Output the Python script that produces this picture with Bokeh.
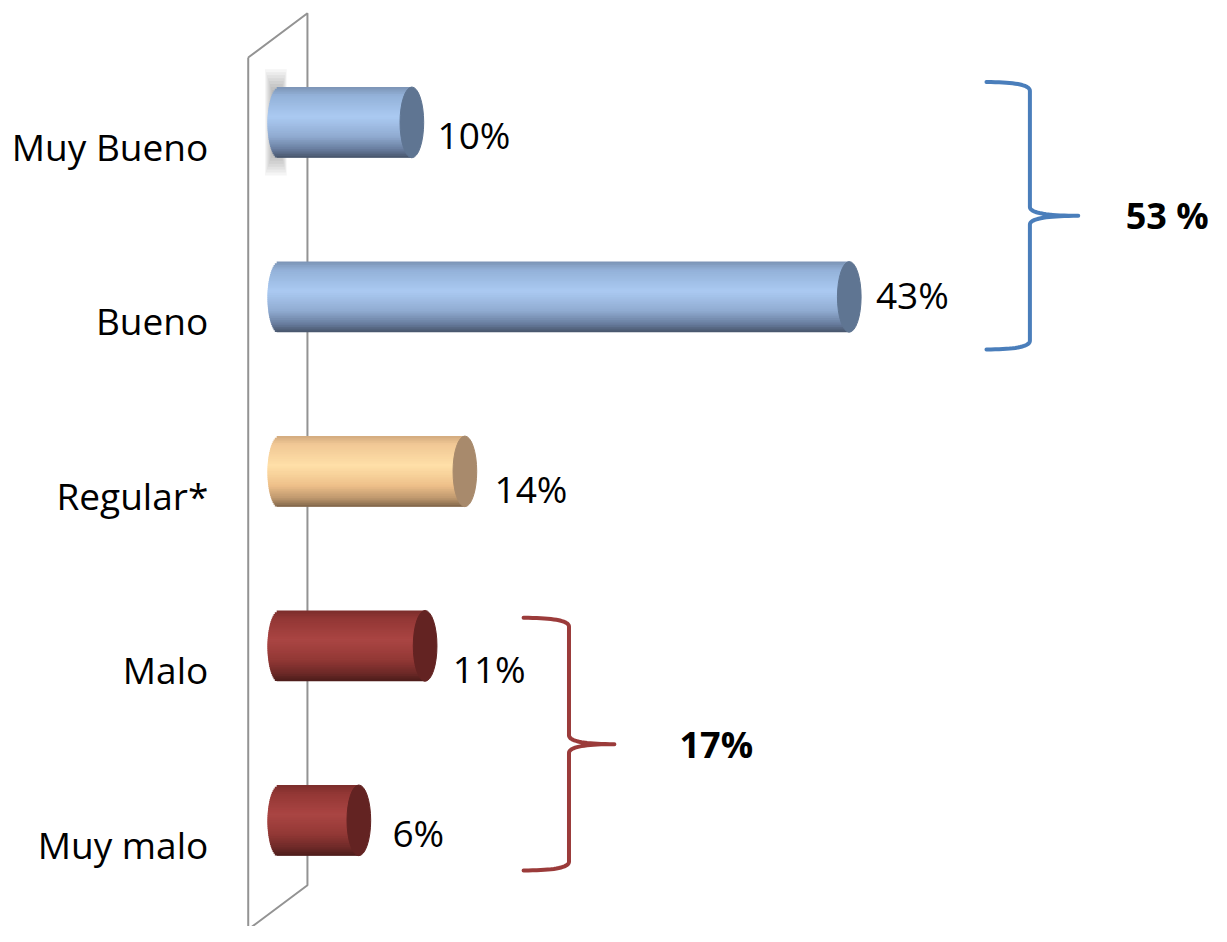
import numpy as np
from bokeh.plotting import figure
from bokeh.models import Range1d, ColumnDataSource
from bokeh.core.properties import value
from bokeh.embed import file_html
from bokeh.resources import INLINE

# ---------------- data ----------------
categories = ["Muy Bueno", "Bueno", "Regular*", "Malo", "Muy malo"]
values = [10, 43, 14, 11, 6]
value_labels = ["10%", "43%", "14%", "11%", "6%"]
bar_style = ["pos", "pos", "neu", "neg", "neg"]
group_labels = ["53 %", "17%"]
group_style = ["pos", "neg"]

# ---------------- styles ----------------
FONT = value("Open Sans")
GRAD = {
    "pos": [(0.0, "#7b93b4"), (0.12, "#93b1d8"), (0.42, "#abcaf2"), (0.7, "#90abd0"),
            (0.88, "#687d9e"), (1.0, "#46546a")],
    "neu": [(0.0, "#d2aa7e"), (0.12, "#f1c895"), (0.42, "#ffe0a8"), (0.7, "#eec08a"),
            (0.88, "#bd976d"), (1.0, "#7e6448")],
    "neg": [(0.0, "#7a2d2b"), (0.12, "#933735"), (0.42, "#aa4543"), (0.7, "#923835"),
            (0.88, "#6e2a28"), (1.0, "#4b1b1a")],
}
CAP = {"pos": "#5f7592", "neu": "#a88a6c", "neg": "#632322"}
BRACE = {"pos": "#4a7ebb", "neg": "#9b3b3a"}
# label placement quirks of the original (screen px)
LABEL_DX = [26, 27, 30, 28, 34]
LABEL_DY = [12, -2, 17, 23, 12]

# reference layout (pixels of a 1227x942 picture) scaled onto the figure
REF_W, REF_H = 1227, 942
W, H = 1211, 926
SX = W / REF_W
PX_PER_UNIT_X = 13.43
PX_PER_UNIT_Y = 177.5
ZERO_PX_X = 282.5
FIRST_PX_Y = 124.0

def X(px):
    return (px - ZERO_PX_X) / PX_PER_UNIT_X

def Y(px):
    return (px - FIRST_PX_Y) / PX_PER_UNIT_Y

def hex2rgb(h):
    h = h.lstrip("#")
    return np.array([int(h[i:i + 2], 16) for i in (0, 2, 4)], dtype=float)

def grad_color(stops, t):
    for (t0, c0), (t1, c1) in zip(stops[:-1], stops[1:]):
        if t0 <= t <= t1:
            f = (t - t0) / (t1 - t0)
            c = hex2rgb(c0) * (1 - f) + hex2rgb(c1) * f
            return "#%02x%02x%02x" % tuple(int(round(v)) for v in c)
    return stops[-1][1]

p = figure(width=W, height=H,
           x_range=Range1d(X(0), X(REF_W)),
           y_range=Range1d(Y(REF_H), Y(0)),
           x_axis_type=None, y_axis_type=None,
           output_backend="svg", toolbar_location=None,
           min_border=0, min_border_left=0, min_border_right=0,
           min_border_top=0, min_border_bottom=0)
p.grid.visible = False
p.outline_line_color = None
p.background_fill_color = "white"
p.border_fill_color = "white"

# ---------------- wall (3D back plane) ----------------
wall_x = [X(251), X(311), X(311), X(251), X(251)]
wall_y = [Y(58), Y(13), Y(900), Y(945), Y(58)]
p.line(wall_x, wall_y, line_color="#939393", line_width=2)

# soft blurred shadow behind first bar (left edge)
for k in range(8):
    p.quad(left=[X(268 + k)], right=[X(290 - k * 0.8)],
           top=[Y(70 + 3 * k)], bottom=[Y(178 - 3 * k)],
           fill_color="#505050", fill_alpha=0.06, line_color=None)

# ---------------- cylinders ----------------
BAR_H = 72.0 / PX_PER_UNIT_Y
CAP_A = 12.0 / PX_PER_UNIT_X
N = 40
hstep = BAR_H / N
lefts, rights, tops, bottoms, cols = [], [], [], [], []
for i, (v, st) in enumerate(zip(values, bar_style)):
    for k in range(N):
        tm = (k + 0.5) / N
        s = 2 * tm - 1
        top = i - BAR_H / 2 + k * hstep
        bottom = min(top + 1.9 * hstep, i + BAR_H / 2)
        tops.append(top)
        bottoms.append(bottom)
        lefts.append(-CAP_A * np.sqrt(max(0.0, 1 - s * s)))
        rights.append(v)
        cols.append(grad_color(GRAD[st], tm))
strips = ColumnDataSource(dict(left=lefts, right=rights, top=tops, bottom=bottoms, color=cols))
p.quad(left="left", right="right", top="top", bottom="bottom", fill_color="color",
       line_color=None, source=strips)

caps = ColumnDataSource(dict(x=values, y=list(range(len(values))),
                             color=[CAP[s] for s in bar_style]))
p.ellipse(x="x", y="y", width=2 * CAP_A, height=BAR_H, fill_color="color",
          line_color="color", line_width=1, source=caps)

# ---------------- labels ----------------
p.text(x=[0] * len(categories), y=list(range(len(categories))), text=categories,
       text_font=FONT, text_font_size="37px", text_color="#000000",
       text_align="right", text_baseline="middle", x_offset=-72 * SX, y_offset=24 * SX)

vl = ColumnDataSource(dict(x=values, y=list(range(len(values))), text=value_labels,
                           dx=[d * SX for d in LABEL_DX], dy=[d * SX for d in LABEL_DY]))
p.text(x="x", y="y", text="text", source=vl,
       text_font=FONT, text_font_size="37px", text_color="#000000",
       text_align="left", text_baseline="middle", x_offset="dx", y_offset="dy")

# ---------------- braces ----------------
def brace(x_left, x_vert, x_tip, y_top, y_bot):
    y_mid = (y_top + y_bot) / 2
    dy = 9 / PX_PER_UNIT_Y
    def qb(p0, c, p1, n=20):
        t = np.linspace(0, 1, n)
        bx = (1 - t) ** 2 * p0[0] + 2 * (1 - t) * t * c[0] + t ** 2 * p1[0]
        by = (1 - t) ** 2 * p0[1] + 2 * (1 - t) * t * c[1] + t ** 2 * p1[1]
        return list(bx), list(by)
    xs, yy = [], []
    for seg in [
        qb((x_left, y_top), (x_vert, y_top), (x_vert, y_top + dy)),
        qb((x_vert, y_top + dy), (x_vert, y_top + dy), (x_vert, y_mid - dy), 2),
        qb((x_vert, y_mid - dy), (x_vert, y_mid), (x_tip, y_mid)),
        qb((x_tip, y_mid), (x_vert, y_mid), (x_vert, y_mid + dy)),
        qb((x_vert, y_mid + dy), (x_vert, y_mid + dy), (x_vert, y_bot - dy), 2),
        qb((x_vert, y_bot - dy), (x_vert, y_bot), (x_left, y_bot)),
    ]:
        xs += seg[0]
        yy += seg[1]
    return xs, yy

brace_geom = [
    (X(999), X(1043), X(1092), Y(83), Y(355), X(1140)),
    (X(530), X(576), X(622), Y(628), Y(885), X(688)),
]
for (xl, xv, xt, yt, yb, xtext), lab, st in zip(brace_geom, group_labels, group_style):
    bx, by = brace(xl, xv, xt, yt, yb)
    p.line(bx, by, line_color=BRACE[st], line_width=4, line_cap="round", line_join="round")
    p.text(x=[xtext], y=[(yt + yb) / 2], text=[lab], text_font=FONT, text_font_size="36px",
           text_font_style="bold", text_color="#000000", text_align="left",
           text_baseline="middle")

open("out.html", "w").write(file_html(p, INLINE))
